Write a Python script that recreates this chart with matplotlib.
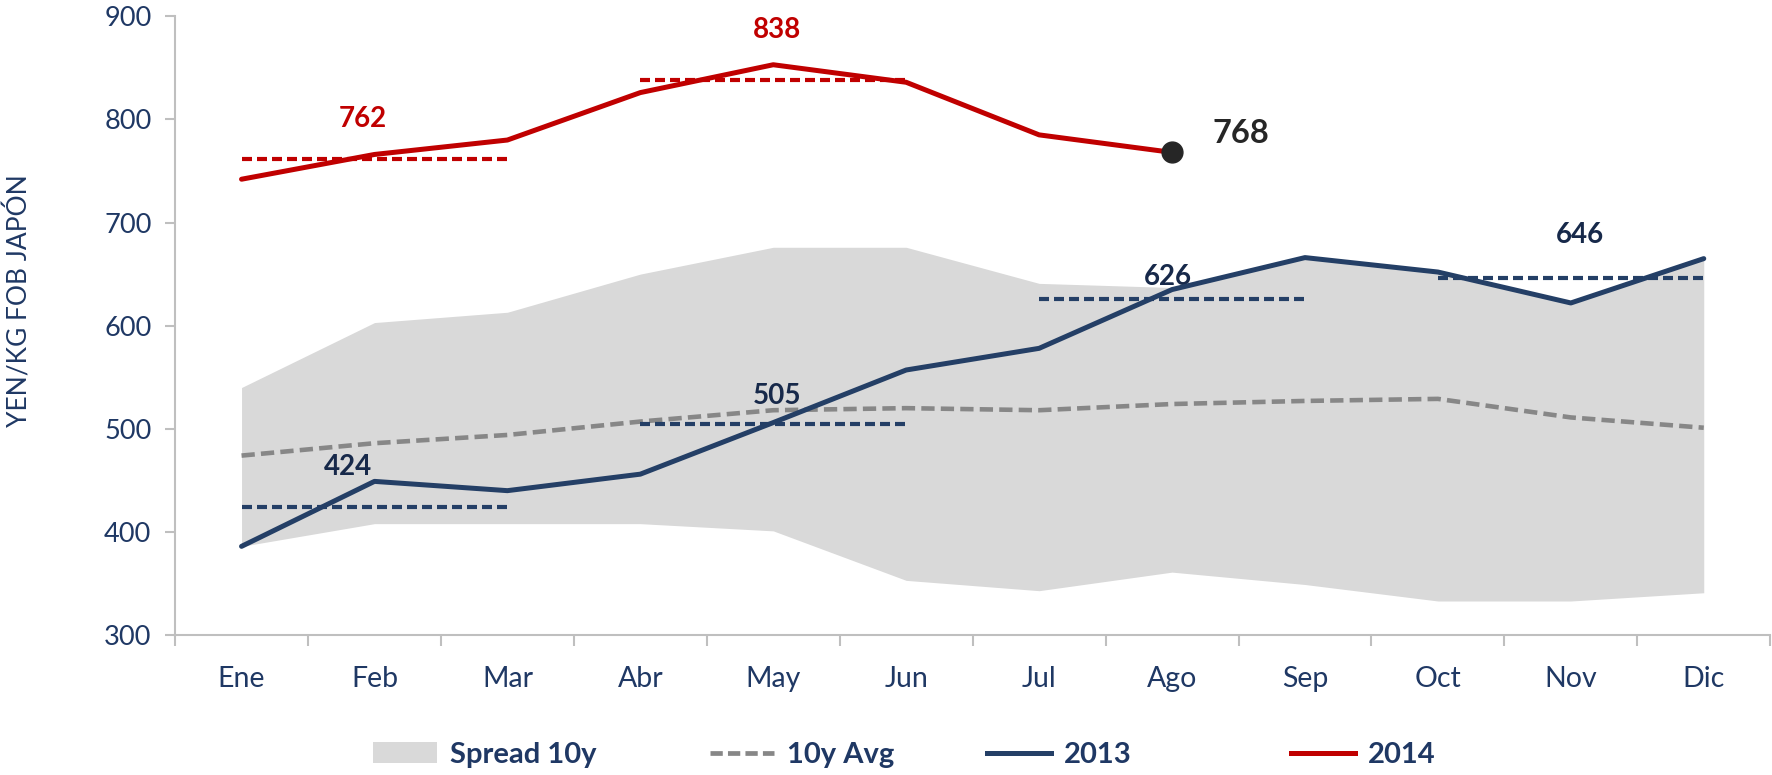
import numpy as np
import matplotlib
matplotlib.use("Agg")
import matplotlib.pyplot as plt
from matplotlib.patches import Patch
from matplotlib.lines import Line2D

plt.rcParams['font.family'] = ['Lato', 'DejaVu Sans']

# data
meses = ['Ene', 'Feb', 'Mar', 'Abr', 'May', 'Jun', 'Jul', 'Ago', 'Sep', 'Oct', 'Nov', 'Dic']
spread_low = [386, 408, 408, 408, 401, 353, 343, 361, 349, 333, 333, 341]
spread_high = [540, 603, 613, 650, 676, 676, 641, 637, 666, 652, 622, 665]
avg_10y = [474, 486, 494, 507, 518, 520, 518, 524, 527, 529, 511, 501]
y2013 = [386, 449, 440, 456, 506, 557, 578, 635, 666, 652, 622, 665]
y2014 = [742, 766, 780, 826, 853, 836, 785, 768]
q2013 = [424, 505, 626, 646]
q2014 = [762, 838]
ultimo_2014 = 768
leyenda = ['Spread 10y', '10y Avg', '2013', '2014']

navy = '#243F66'
navy_txt = '#1F3864'
red = '#C00000'
grey_fill = '#D9D9D9'
grey_avg = '#878787'

fig = plt.figure(figsize=(17.72, 7.75), dpi=100)
ax = fig.add_axes([0.0988, 0.1806, 0.9002, 0.7984])

x = np.arange(len(meses))
x14 = np.arange(len(y2014))

ax.fill_between(x, spread_low, spread_high, color=grey_fill, lw=0, zorder=1)
ax.plot(x, avg_10y, color=grey_avg, lw=3.3, dashes=(2.9, 1.35), zorder=2)

# quarterly averages (each spans three months)
for i, v in enumerate(q2013):
    ax.plot([3 * i, 3 * i + 2], [v, v], color=navy, lw=3, dashes=(2.4, 1.2), zorder=3)
for i, v in enumerate(q2014):
    ax.plot([3 * i, 3 * i + 2], [v, v], color=red, lw=3, dashes=(2.4, 1.2), zorder=3)

ax.plot(x, y2013, color=navy, lw=3.6, zorder=4, solid_capstyle='round')
ax.plot(x14, y2014, color=red, lw=3.6, zorder=4, solid_capstyle='round')
ax.plot(x14[-1], y2014[-1], 'o', color='#262626', ms=15, zorder=5)

# value labels
lab14 = [(0.91, 800), (4.03, 887)]
for (lx, ly), v in zip(lab14, q2014):
    ax.text(lx, ly, str(v), color=red, fontsize=20, fontweight='bold', ha='center', va='center')
lab13 = [(0.8, 463), (4.03, 532), (6.97, 647), (10.07, 688)]
for (lx, ly), v in zip(lab13, q2013):
    ax.text(lx, ly, str(v), color='#17294A', fontsize=20, fontweight='bold', ha='center', va='center')
ax.text(7.52, 786, str(ultimo_2014), color='#262626', fontsize=23.5, fontweight='bold', ha='center', va='center')

ax.set_xlim(-0.5, 11.5)
ax.set_ylim(300, 900)
ax.set_yticks(np.arange(300, 901, 100))
ax.set_xticks(x)
ax.set_xticklabels(meses)
ax.set_xticks(np.arange(-0.5, 12, 1), minor=True)
ax.tick_params(axis='x', which='major', length=0, pad=22, labelsize=20.5, labelcolor=navy_txt)
ax.tick_params(axis='x', which='minor', length=8, width=1.5, color='#BFBFBF', direction='out')
ax.tick_params(axis='y', length=7, width=1.5, color='#BFBFBF', pad=10, labelsize=19.5, labelcolor=navy_txt)

for s in ['top', 'right']:
    ax.spines[s].set_visible(False)
for s in ['left', 'bottom']:
    ax.spines[s].set_color('#BFBFBF')
    ax.spines[s].set_linewidth(1.5)

fig.text(0.0105, 0.612, 'YEN/KG FOB JAPÓN', rotation=90, ha='center', va='center',
         fontsize=19, color=navy_txt)

handles = [Patch(facecolor=grey_fill, edgecolor='none'),
           Line2D([], [], color=grey_avg, lw=3.4, dashes=(2.6, 1.1)),
           Line2D([], [], color=navy, lw=3.6),
           Line2D([], [], color=red, lw=3.6)]
# Excel-style legend: each entry placed on its own
leg_x = [0.2105, 0.4007, 0.557, 0.7285]
for h, lab, lx in zip(handles, leyenda, leg_x):
    leg = fig.legend([h], [lab], loc='center left', bbox_to_anchor=(lx, 0.026),
                     frameon=False, borderpad=0, borderaxespad=0,
                     handlelength=2.2, handletextpad=0.45,
                     prop={'size': 21, 'weight': 'bold'})
    for t in leg.get_texts():
        t.set_color(navy_txt)

fig.savefig('out.png', dpi=100)
